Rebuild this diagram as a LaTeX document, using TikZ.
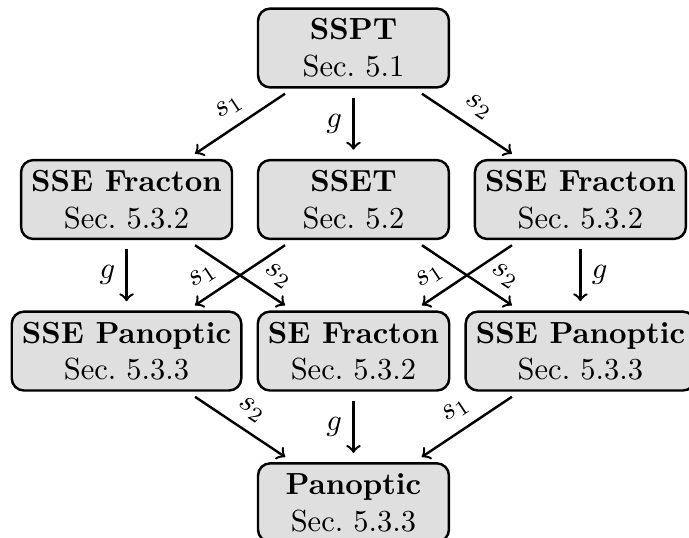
\documentclass[tikz,border=0pt]{standalone}
\begin{document}
\begin{tikzpicture}[x=1.0cm,y=1.0cm,
  secbox/.style={draw,thick,fill=gray!25,rounded corners,align=center,minimum width=2.2cm},
  arr/.style={->,thick,shorten >=3pt,shorten <=3pt}]
\useasboundingbox (-4.073,0.553) rectangle (3.866,-5.646);
% nodes
\node[secbox] (sspt) at (0,0) {\textbf{SSPT}\\Sec.~5.1};
\node[secbox] (frl) at (-2.615,-1.746) {\textbf{SSE Fracton}\\Sec.~5.3.2};
\node[secbox] (sset) at (0,-1.746) {\textbf{SSET}\\Sec.~5.2};
\node[secbox] (frr) at (2.615,-1.746) {\textbf{SSE Fracton}\\Sec.~5.3.2};
\node[secbox] (pal) at (-2.615,-3.492) {\textbf{SSE Panoptic}\\Sec.~5.3.3};
\node[secbox] (sefr) at (0,-3.492) {\textbf{SE Fracton}\\Sec.~5.3.2};
\node[secbox] (par) at (2.615,-3.492) {\textbf{SSE Panoptic}\\Sec.~5.3.3};
\node[secbox] (pan) at (0,-5.238) {\textbf{Panoptic}\\Sec.~5.3.3};
% arrows
\draw[arr] (sspt) -- node[above,sloped] {$s_1$} (frl);
\draw[arr] (sspt) -- node[left] {$g$} (sset);
\draw[arr] (sspt) -- node[above,sloped] {$s_2$} (frr);
\draw[arr] (frl) -- node[left] {$g$} (pal);
\draw[arr] (frl) -- node[above,sloped,pos=0.75] {$s_2$} (sefr);
\draw[arr] (sset) -- node[above,sloped,pos=0.75] {$s_1$} (pal);
\draw[arr] (sset) -- node[above,sloped,pos=0.75] {$s_2$} (par);
\draw[arr] (frr) -- node[above,sloped,pos=0.75] {$s_1$} (sefr);
\draw[arr] (frr) -- node[right] {$g$} (par);
\draw[arr] (pal) -- node[above,sloped] {$s_2$} (pan);
\draw[arr] (sefr) -- node[left] {$g$} (pan);
\draw[arr] (par) -- node[above,sloped] {$s_1$} (pan);
\end{tikzpicture}
\end{document}
